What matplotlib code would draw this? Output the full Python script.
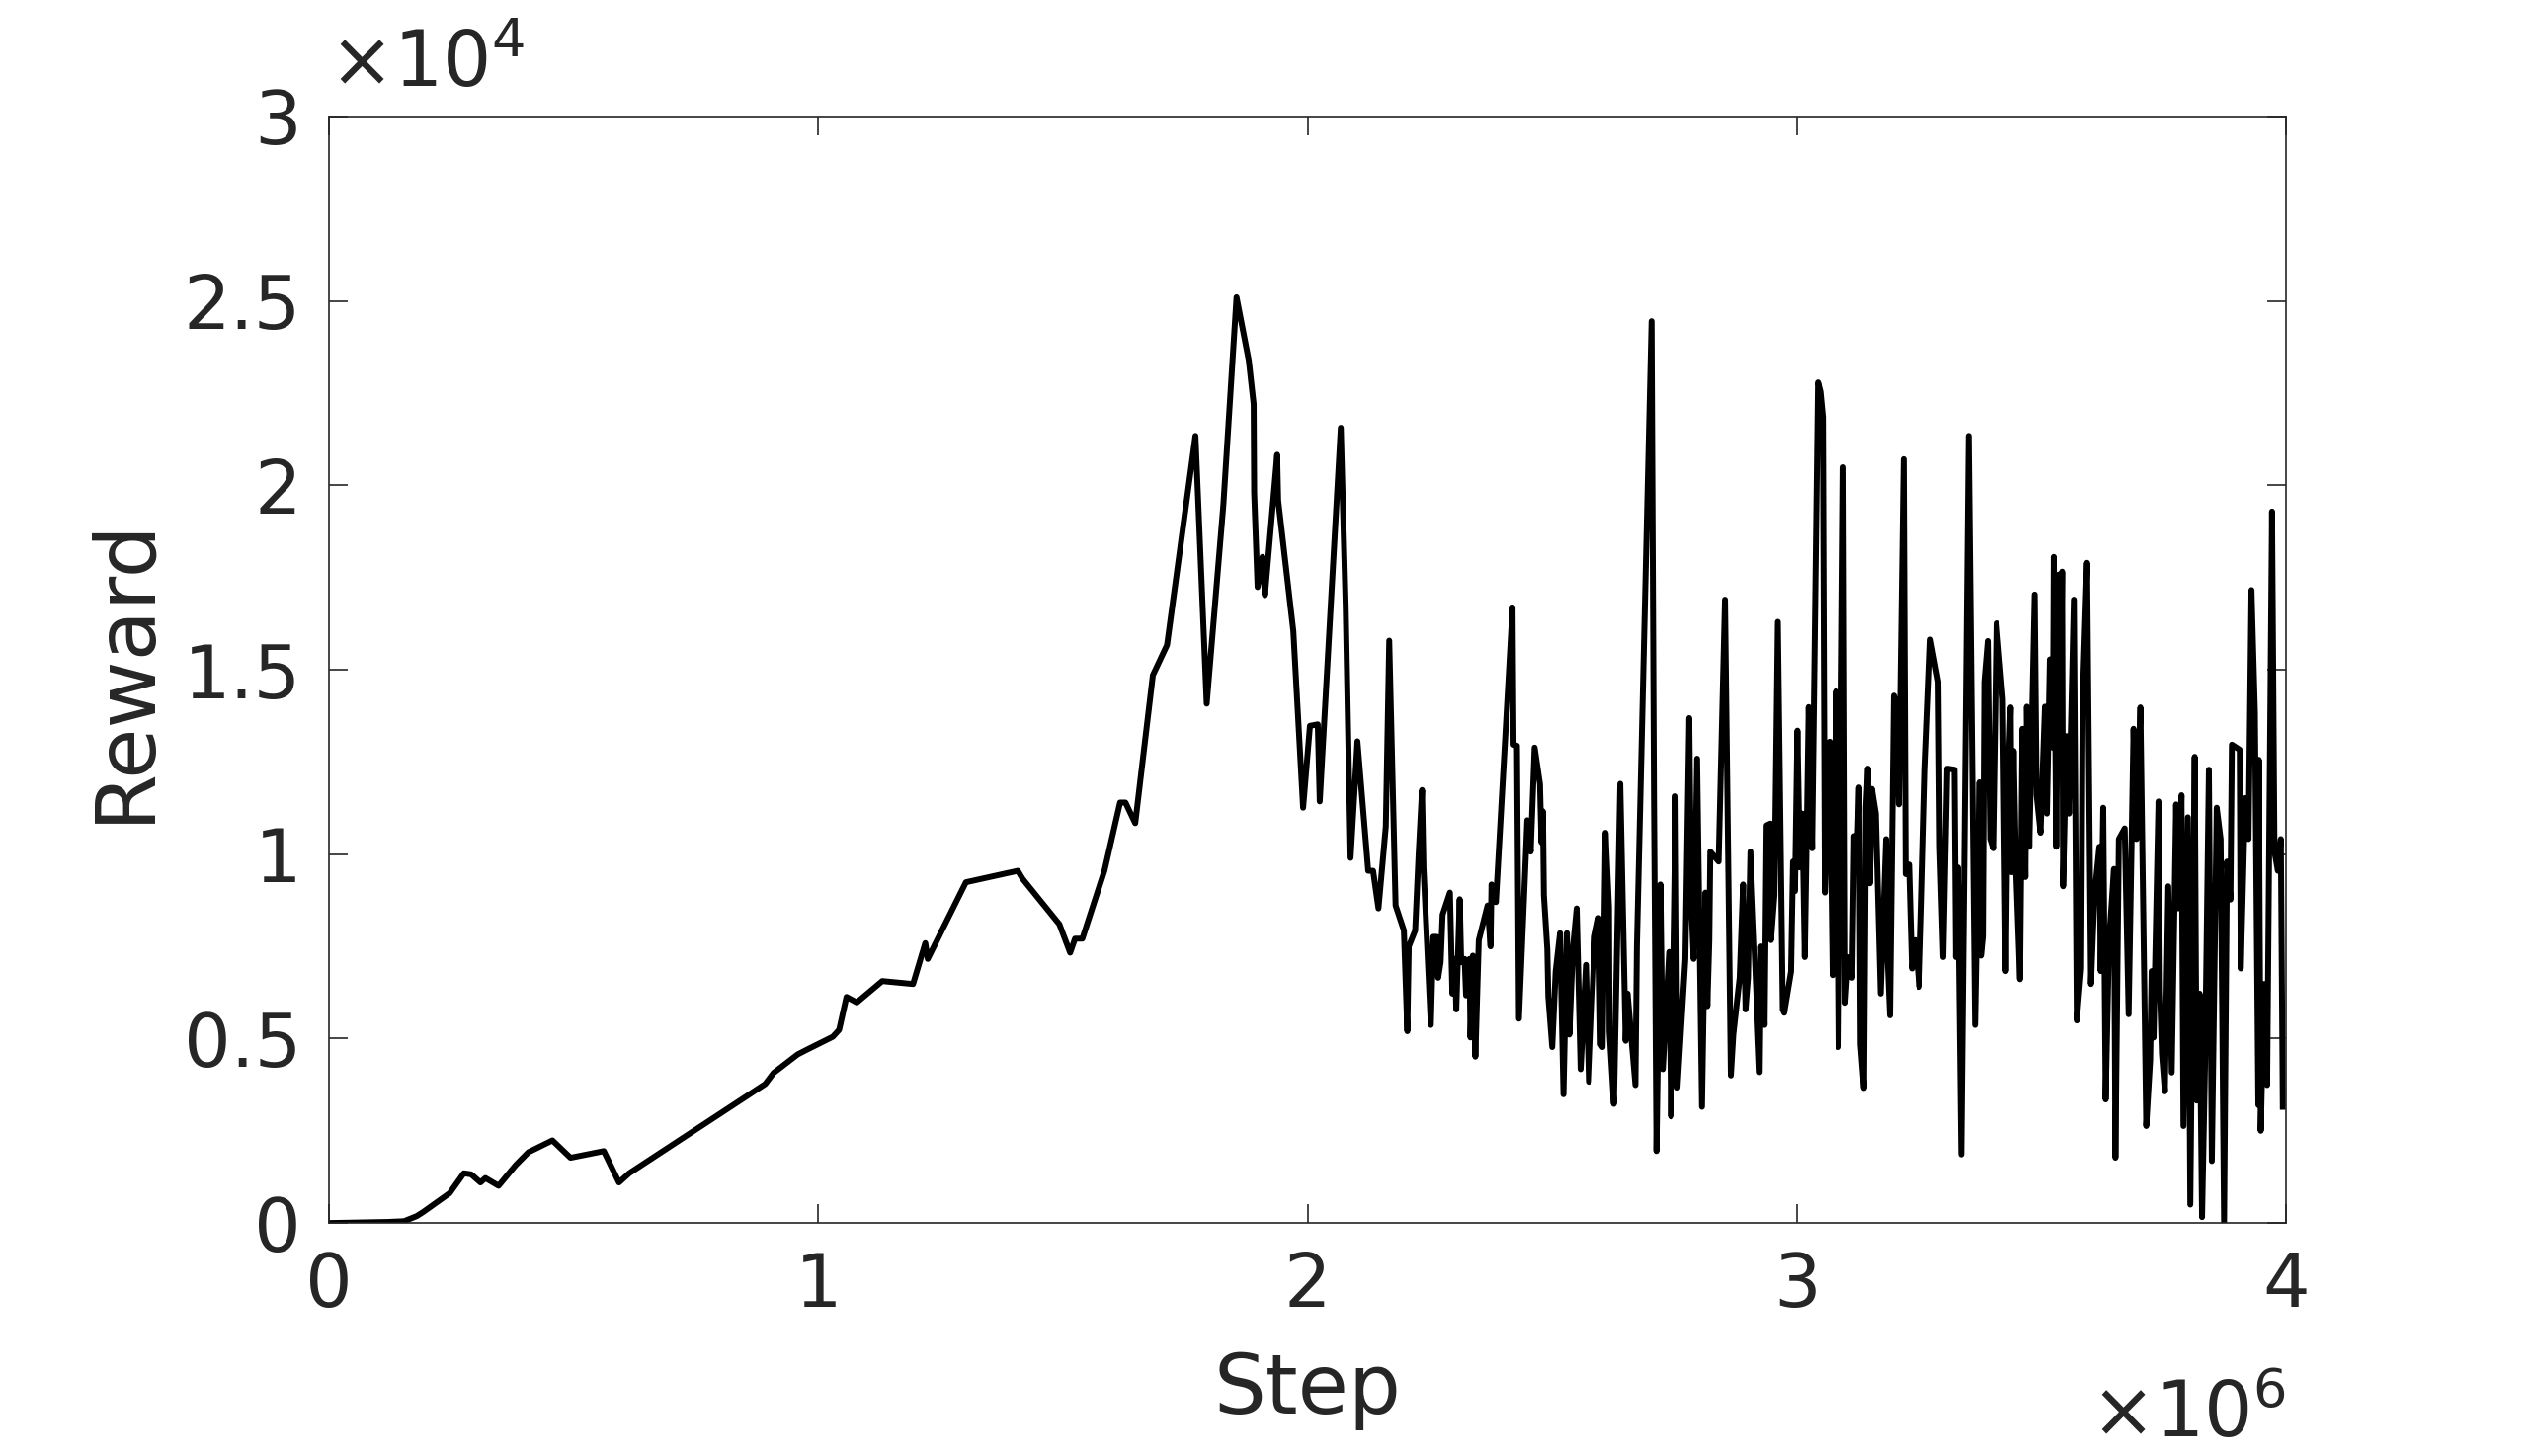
import numpy as np
import matplotlib
matplotlib.use("Agg")
import matplotlib.pyplot as plt

# step in units of 1e6, reward in units of 1e4
step = [
    0.000, 0.120, 0.154, 0.180, 0.193, 0.247, 0.276, 0.291, 0.310, 0.320,
    0.347, 0.382, 0.408, 0.457, 0.494, 0.562, 0.593, 0.614, 0.892, 0.909,
    0.958, 0.977, 1.030, 1.043, 1.058, 1.079, 1.131, 1.194, 1.219, 1.224,
    1.302, 1.408, 1.418, 1.493, 1.515, 1.525, 1.540, 1.585, 1.617, 1.628,
    1.648, 1.684, 1.713, 1.771, 1.794, 1.828, 1.855, 1.880, 1.890, 1.891,
    1.898, 1.908, 1.913, 1.938, 1.940, 1.971, 1.991, 2.005, 2.021, 2.025,
    2.068, 2.078, 2.088, 2.102, 2.124, 2.134, 2.145, 2.160, 2.167, 2.180,
    2.197, 2.204, 2.207, 2.220, 2.227, 2.234, 2.237, 2.252, 2.257, 2.264,
    2.267, 2.272, 2.276, 2.291, 2.296, 2.301, 2.304, 2.311, 2.314, 2.321,
    2.324, 2.331, 2.333, 2.338, 2.343, 2.350, 2.368, 2.374, 2.376, 2.385,
    2.419, 2.421, 2.428, 2.432, 2.449, 2.456, 2.464, 2.475, 2.478, 2.481,
    2.483, 2.490, 2.492, 2.500, 2.507, 2.516, 2.523, 2.530, 2.535, 2.542,
    2.550, 2.558, 2.569, 2.575, 2.587, 2.595, 2.599, 2.603, 2.609, 2.616,
    2.617, 2.626, 2.639, 2.650, 2.654, 2.670, 2.673, 2.703, 2.708, 2.713,
    2.721, 2.726, 2.739, 2.743, 2.752, 2.756, 2.772, 2.780, 2.784, 2.789,
    2.796, 2.806, 2.813, 2.817, 2.821, 2.823, 2.840, 2.853, 2.865, 2.870,
    2.883, 2.890, 2.895, 2.900, 2.905, 2.924, 2.927, 2.934, 2.938, 2.946,
    2.947, 2.954, 2.961, 2.971, 2.974, 2.988, 2.992, 2.996, 3.001, 3.006,
    3.011, 3.016, 3.024, 3.031, 3.043, 3.048, 3.053, 3.057, 3.067, 3.073,
    3.080, 3.085, 3.095, 3.099, 3.105, 3.113, 3.117, 3.122, 3.127, 3.130,
    3.137, 3.141, 3.145, 3.149, 3.153, 3.161, 3.171, 3.182, 3.185, 3.190,
    3.198, 3.203, 3.208, 3.218, 3.222, 3.229, 3.235, 3.242, 3.250, 3.255,
    3.262, 3.273, 3.289, 3.292, 3.299, 3.307, 3.322, 3.325, 3.329, 3.336,
    3.351, 3.364, 3.373, 3.376, 3.380, 3.383, 3.390, 3.395, 3.401, 3.408,
    3.421, 3.427, 3.431, 3.437, 3.439, 3.443, 3.448, 3.456, 3.461, 3.467,
    3.470, 3.475, 3.486, 3.490, 3.498, 3.507, 3.511, 3.517, 3.523, 3.525,
    3.530, 3.535, 3.538, 3.542, 3.544, 3.551, 3.556, 3.566, 3.572, 3.581,
    3.584, 3.593, 3.601, 3.608, 3.618, 3.621, 3.626, 3.631, 3.638, 3.643,
    3.648, 3.651, 3.658, 3.670, 3.678, 3.688, 3.694, 3.702, 3.714, 3.722,
    3.725, 3.729, 3.739, 3.742, 3.746, 3.752, 3.759, 3.766, 3.775, 3.779,
    3.786, 3.790, 3.799, 3.804, 3.813, 3.817, 3.823, 3.828, 3.834, 3.842,
    3.848, 3.858, 3.866, 3.873, 3.879, 3.886, 3.889, 3.905, 3.907, 3.911,
    3.916, 3.923, 3.929, 3.936, 3.943, 3.944, 3.948, 3.955, 3.961, 3.971,
    3.976, 3.983, 3.989, 3.993,
]
reward = [
    0.000, 0.003, 0.005, 0.019, 0.030, 0.081, 0.135, 0.132, 0.110, 0.122,
    0.101, 0.157, 0.192, 0.224, 0.177, 0.195, 0.110, 0.135, 0.377, 0.407,
    0.457, 0.470, 0.505, 0.524, 0.613, 0.598, 0.656, 0.648, 0.759, 0.716,
    0.924, 0.955, 0.933, 0.810, 0.733, 0.771, 0.771, 0.955, 1.140, 1.140,
    1.084, 1.485, 1.567, 2.134, 1.408, 1.946, 2.510, 2.339, 2.220, 1.980,
    1.724, 1.806, 1.702, 2.083, 1.960, 1.605, 1.126, 1.348, 1.352, 1.143,
    2.156, 1.673, 0.990, 1.306, 0.955, 0.955, 0.853, 1.075, 1.579, 0.861,
    0.793, 0.520, 0.750, 0.793, 0.998, 1.174, 0.964, 0.537, 0.776, 0.776,
    0.665, 0.707, 0.836, 0.896, 0.622, 0.716, 0.579, 0.878, 0.707, 0.716,
    0.617, 0.716, 0.503, 0.725, 0.451, 0.767, 0.861, 0.750, 0.918, 0.870,
    1.669, 1.297, 1.294, 0.554, 1.092, 1.007, 1.289, 1.190, 1.032, 1.116,
    0.889, 0.742, 0.614, 0.477, 0.682, 0.786, 0.349, 0.786, 0.511, 0.742,
    0.853, 0.417, 0.700, 0.383, 0.776, 0.827, 0.485, 0.477, 1.058, 0.856,
    0.520, 0.323, 1.191, 0.494, 0.622, 0.374, 0.750, 2.445, 1.143, 0.195,
    0.918, 0.417, 0.735, 0.289, 1.157, 0.367, 0.716, 1.369, 0.870, 0.716,
    1.259, 0.315, 0.896, 0.588, 0.767, 1.007, 0.980, 1.690, 0.400, 0.511,
    0.665, 0.918, 0.579, 0.665, 1.007, 0.409, 0.750, 0.537, 1.078, 1.083,
    0.767, 0.889, 1.630, 0.579, 0.570, 0.682, 0.980, 0.900, 1.335, 0.964,
    1.110, 0.721, 1.399, 1.016, 2.279, 2.254, 2.185, 0.896, 1.305, 0.672,
    1.442, 0.477, 2.049, 0.597, 0.721, 0.665, 1.049, 0.953, 1.181, 0.485,
    0.366, 1.126, 1.232, 0.921, 1.177, 1.110, 0.622, 1.041, 0.721, 0.563,
    1.430, 1.408, 1.135, 2.071, 0.946, 0.972, 0.690, 0.767, 0.640, 0.870,
    1.229, 1.582, 1.467, 1.020, 0.721, 1.232, 1.229, 0.721, 0.964, 0.186,
    2.134, 0.537, 1.195, 0.725, 0.776, 1.467, 1.578, 1.041, 1.016, 1.626,
    1.420, 0.683, 1.178, 1.398, 0.951, 1.280, 0.951, 0.661, 1.340, 0.938,
    1.400, 1.020, 1.704, 1.160, 1.058, 1.400, 1.110, 1.528, 1.289, 1.806,
    1.020, 1.758, 1.280, 1.766, 0.913, 1.320, 1.110, 1.690, 0.549, 0.690,
    1.420, 1.790, 0.648, 0.887, 1.020, 0.683, 1.126, 0.335, 0.767, 0.861,
    0.960, 0.177, 1.041, 1.070, 0.566, 1.340, 1.041, 1.398, 0.263, 0.442,
    0.683, 0.503, 1.143, 0.631, 0.459, 0.357, 0.913, 0.408, 1.135, 0.853,
    1.160, 0.263, 1.100, 0.050, 1.264, 0.332, 0.622, 0.016, 0.425, 1.229,
    0.168, 1.126, 1.041, 0.002, 0.980, 0.877, 1.297, 1.283, 0.690, 0.887,
    1.152, 1.041, 1.716, 1.384, 0.320, 1.256, 0.250, 0.648, 0.374, 1.929,
    1.007, 0.955, 1.041, 0.315,
]

xticks = [0, 1, 2, 3, 4]
yticks = [0, 0.5, 1, 1.5, 2, 2.5, 3]
ytick_labels = ["0", "0.5", "1", "1.5", "2", "2.5", "3"]

txt = "#262626"
plt.rcParams["font.family"] = "DejaVu Sans"

fig = plt.figure(figsize=(25.6, 14.74), dpi=100)
ax = fig.add_axes([0.130, 0.160, 0.774, 0.760])

ax.plot(np.array(step) * 1e6, np.array(reward) * 1e4, color="black", lw=4.3)

ax.set_xlim(0, 4e6)
ax.set_ylim(0, 3e4)
ax.set_xticks([v * 1e6 for v in xticks])
ax.set_xticklabels([str(v) for v in xticks])
ax.set_yticks([v * 1e4 for v in yticks])
ax.set_yticklabels(ytick_labels)

ax.tick_params(direction="in", length=14, width=1.2, top=True, right=True,
               labelsize=54, colors=txt, pad=20)
for s in ax.spines.values():
    s.set_linewidth(1.2)
    s.set_color(txt)

ax.set_xlabel("Step", fontsize=60, color=txt, labelpad=20)
ax.set_ylabel("Reward", fontsize=60, color=txt, labelpad=14)

ax.text(0.0, 1.012, r"$\times10^{4}$", transform=ax.transAxes, fontsize=56,
        color=txt, ha="left", va="bottom")
ax.text(1.0, -0.14, r"$\times10^{6}$", transform=ax.transAxes, fontsize=56,
        color=txt, ha="right", va="top")

fig.savefig("out.png", dpi=100, facecolor="white")
